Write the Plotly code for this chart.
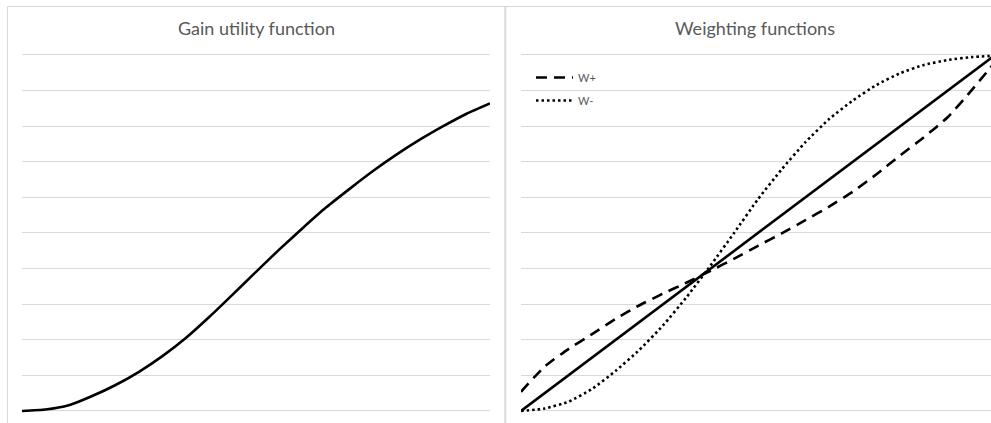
import plotly.graph_objects as go

W, H = 991, 423

# ---- data ----
x_steps = [0.00, 0.05, 0.10, 0.15, 0.20, 0.25, 0.30, 0.35, 0.40, 0.45, 0.50,
           0.55, 0.60, 0.65, 0.70, 0.75, 0.80, 0.85, 0.90, 0.95, 1.00]

gain_utility = [0.000, 0.004, 0.016, 0.042, 0.073, 0.110, 0.154, 0.205, 0.264, 0.327, 0.391,
                0.454, 0.514, 0.572, 0.624, 0.674, 0.720, 0.762, 0.800, 0.835, 0.864]

identity_line = [0.00, 0.05, 0.10, 0.15, 0.20, 0.25, 0.30, 0.35, 0.40, 0.45, 0.50,
                 0.55, 0.60, 0.65, 0.70, 0.75, 0.80, 0.85, 0.90, 0.95, 1.00]

w_plus = [0.054, 0.125, 0.174, 0.216, 0.259, 0.297, 0.330, 0.361, 0.394, 0.428, 0.464,
          0.499, 0.536, 0.574, 0.616, 0.665, 0.718, 0.769, 0.825, 0.900, 0.980]

w_minus = [0.000, 0.007, 0.026, 0.062, 0.113, 0.172, 0.241, 0.321, 0.409, 0.501, 0.595,
           0.679, 0.755, 0.820, 0.872, 0.916, 0.949, 0.972, 0.986, 0.994, 0.998]

titles = ["Gain utility function", "Weighting functions"]
legend_names = ["W+", "W-"]

FONT = "Lato"
GRID = "#d9d9d9"
TEXT = "#595959"

def px_x(p):
    return p / W

def px_y(p):
    return 1 - p / H

fig = go.Figure()

fig.add_trace(go.Scatter(x=x_steps, y=gain_utility, mode="lines",
                         line=dict(color="black", width=2.6, shape="spline", smoothing=0.5),
                         showlegend=False, xaxis="x", yaxis="y"))

fig.add_trace(go.Scatter(x=x_steps, y=identity_line, mode="lines",
                         line=dict(color="black", width=2.6),
                         showlegend=False, xaxis="x2", yaxis="y2"))
fig.add_trace(go.Scatter(x=x_steps, y=w_plus, mode="lines", name=legend_names[0],
                         legendgroup="a",
                         line=dict(color="black", width=2.6, dash="11px,7px",
                                   shape="spline", smoothing=0.5),
                         xaxis="x2", yaxis="y2"))
fig.add_trace(go.Scatter(x=x_steps, y=w_minus, mode="lines", name=legend_names[1],
                         legendgroup="b",
                         line=dict(color="black", width=2.6, dash="2.5px,3px",
                                   shape="spline", smoothing=0.5),
                         xaxis="x2", yaxis="y2"))

# value 0 -> 411 px, value 1 -> 55 px; pad range so edge gridlines are drawn
pad = 0.012
y0px, y1px = 411.0, 55.0
unit = y0px - y1px
ydom = [px_y(y0px + pad * unit), px_y(y1px - pad * unit)]
yr = [-pad, 1 + pad]
axis_common = dict(showticklabels=False, ticks="", zeroline=False, showline=False)

fig.update_layout(
    width=W, height=H,
    margin=dict(l=0, r=0, t=0, b=0),
    paper_bgcolor="white", plot_bgcolor="white",
    font=dict(family=FONT, color=TEXT),
    xaxis=dict(domain=[px_x(22), px_x(490)], range=[0, 1], showgrid=False, **axis_common),
    yaxis=dict(domain=ydom, range=yr, dtick=0.1, tick0=0, showgrid=True,
               gridcolor=GRID, gridwidth=1, **axis_common),
    xaxis2=dict(domain=[px_x(521), 1.0], range=[0, 470 / 474], showgrid=False,
                anchor="y2", **axis_common),
    yaxis2=dict(domain=ydom, range=yr, dtick=0.1, tick0=0, showgrid=True,
                gridcolor=GRID, gridwidth=1, anchor="x2", **axis_common),
    legend=dict(x=px_x(531), y=px_y(63), xanchor="left", yanchor="top",
                bgcolor="rgba(0,0,0,0)", font=dict(size=11, color=TEXT, family=FONT),
                traceorder="grouped", tracegroupgap=4, itemwidth=37),
    showlegend=True,
)

# panel borders
shapes = [
    dict(type="line", xref="paper", yref="paper", x0=px_x(7), x1=1, y0=px_y(6.5), y1=px_y(6.5),
         line=dict(color=GRID, width=1)),
    dict(type="line", xref="paper", yref="paper", x0=px_x(7.5), x1=px_x(7.5), y0=px_y(6), y1=0,
         line=dict(color=GRID, width=1)),
    dict(type="line", xref="paper", yref="paper", x0=px_x(505.3), x1=px_x(505.3), y0=px_y(6), y1=0,
         line=dict(color=GRID, width=2)),
]
fig.update_layout(shapes=shapes)

fig.add_annotation(text=titles[0], xref="paper", yref="paper", x=px_x(256), y=px_y(28),
                   xanchor="center", yanchor="middle", showarrow=False,
                   font=dict(size=18, color=TEXT, family=FONT))
fig.add_annotation(text=titles[1], xref="paper", yref="paper", x=px_x(755), y=px_y(28),
                   xanchor="center", yanchor="middle", showarrow=False,
                   font=dict(size=18, color=TEXT, family=FONT))

fig.write_html("out.html", config={"displayModeBar": False},
               post_script="document.body.style.margin='0';document.body.style.overflow='hidden';")
